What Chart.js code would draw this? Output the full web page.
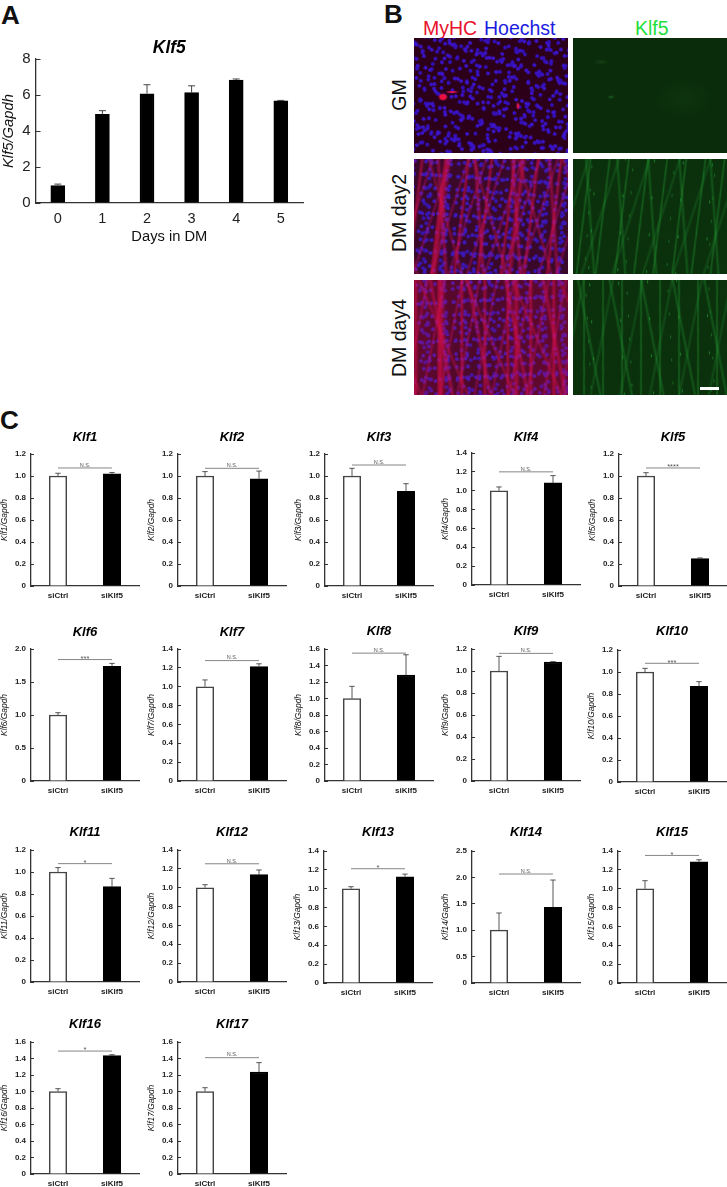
<!DOCTYPE html>
<html>
<head>
<meta charset="utf-8">
<script src="https://cdn.jsdelivr.net/npm/chart.js@4"></script>
<style>
  html, body { margin: 0; background: #fff; }
  #page { position: relative; width: 727px; height: 1187px; overflow: hidden; font-family: "Liberation Sans", Arial, sans-serif; }
  #page canvas { position: absolute; }
  .txt { position: absolute; white-space: nowrap; line-height: 1; color: #111; }
  .letter { font-size: 26px; font-weight: bold; }
  .rot { transform: translate(-50%, -50%) rotate(-90deg); font-size: 19.5px; }
  .micro { position: absolute; width: 154px; height: 115px; overflow: hidden; }
  .micro::before { content: ''; position: absolute; inset: -50px; filter: blur(0.7px); }
  .micro::after { content: ''; position: absolute; inset: 0; }

  /* textures only, tiles overlap so the repeat is less obvious */
  .gm-left { background: #2c0018; }
  .gm-left::before {
    transform: rotate(19deg);
    background-image:
      radial-gradient(circle at 30% 40%, #3a14c8 1.5px, transparent 2.3px),
      radial-gradient(circle at 70% 20%, #3410bc 1.5px, transparent 2.3px),
      radial-gradient(circle at 20% 70%, #3a12c4 1.5px, transparent 2.3px),
      radial-gradient(circle at 60% 60%, #3410b8 1.6px, transparent 2.4px),
      radial-gradient(circle at 40% 30%, #3c14c8 1.5px, transparent 2.3px),
      radial-gradient(circle at 50% 80%, #3410bc 1.5px, transparent 2.3px),
      radial-gradient(circle at 80% 50%, #3a12c4 1.5px, transparent 2.3px),
      radial-gradient(circle at 25% 55%, #3812c0 1.5px, transparent 2.3px),
      radial-gradient(circle at 65% 35%, #3a14c8 1.5px, transparent 2.3px),
      radial-gradient(circle at 45% 75%, #3410bc 1.5px, transparent 2.3px);
    background-size: 17px 19px, 21px 13px, 19px 23px, 29px 17px, 13px 31px, 37px 11px, 11px 43px, 31px 13px, 23px 16px, 15px 27px;
    background-position: 0 0, 5px 3px, 9px 7px, 2px 11px, 4px 1px, 7px 5px, 3px 9px, 6px 12px, 10px 2px, 1px 8px;
  }
  .gm-left::after {
    background-image:
      radial-gradient(ellipse 5px 4px at 29px 59px, #ee1040 55%, transparent),
      radial-gradient(ellipse 7px 1.5px at 38px 54px, #d01048 40%, transparent),
      radial-gradient(ellipse 2px 4px at 104px 68px, #d01048 50%, transparent);
  }
  .gm-right { background: #0a2c0a; }
  .gm-right::after {
    background-image:
      radial-gradient(ellipse 4px 2px at 38px 59px, #1c5a1e, transparent),
      radial-gradient(ellipse 8px 3px at 28px 24px, #164016, transparent),
      radial-gradient(ellipse 30px 20px at 110px 60px, #0e340e, transparent);
  }
  .dm-left { background: #3a0828; }
  .dm-left::before {
    transform: rotate(4deg);
    background-image:
      linear-gradient(93deg, transparent 30%, rgba(216,14,70,.65) 31%, transparent 33%, transparent 58%, rgba(216,14,70,.6) 59.5%, transparent 61%),
      repeating-linear-gradient(93deg, transparent 0 9px, rgba(214,14,72,.6) 11px, transparent 14px 23px),
      repeating-linear-gradient(82deg, transparent 0 15px, rgba(204,16,84,.55) 18px, transparent 21px 37px),
      repeating-linear-gradient(104deg, transparent 0 6px, rgba(190,16,110,.45) 8px, transparent 10px 17px),
      repeating-linear-gradient(70deg, transparent 0 24px, rgba(214,20,80,.4) 26px, transparent 29px 43px),
      radial-gradient(circle at 30% 40%, #3c18b8 1.5px, transparent 2.3px),
      radial-gradient(circle at 70% 20%, #3614b0 1.5px, transparent 2.3px),
      radial-gradient(circle at 20% 70%, #3c18b8 1.5px, transparent 2.3px),
      radial-gradient(circle at 60% 60%, #3614b0 1.5px, transparent 2.3px),
      radial-gradient(circle at 40% 30%, #3c18b8 1.5px, transparent 2.3px);
    background-size: auto, auto, auto, auto, auto, 11px 13px, 17px 9px, 9px 19px, 23px 15px, 19px 11px;
  }
  .dm-right { background: #0a300c; }
  .dm-right::before {
    transform: rotate(4deg);
    background-image:
      repeating-linear-gradient(93deg, transparent 0 8px, rgba(34,150,48,.5) 9.5px, transparent 11px 19px),
      repeating-linear-gradient(82deg, transparent 0 17px, rgba(30,140,44,.45) 19px, transparent 21px 31px),
      repeating-linear-gradient(104deg, transparent 0 13px, rgba(28,120,40,.4) 15px, transparent 17px 29px),
      radial-gradient(ellipse 1px 2.5px at 40% 40%, rgba(38,170,56,.8), transparent),
      radial-gradient(ellipse 1px 2.5px at 60% 70%, rgba(32,150,48,.7), transparent);
    background-size: auto, auto, auto, 29px 37px, 41px 23px;
  }
  .day4.dm-left::after { background: linear-gradient(100deg, rgba(220,10,60,.28), rgba(220,10,60,.1) 45%, rgba(220,10,60,.3)); }
  .day4.dm-left::before { transform: rotate(-3deg); }
  .day4.dm-right::before { transform: rotate(-3deg); }
  #scalebar { position: absolute; left: 700px; top: 387px; width: 19px; height: 3px; background: #fff; }
</style>
</head>
<body>
<div id="page">
  <div class="txt letter" style="left:1px;top:2px">A</div>
  <div class="txt letter" style="left:384px;top:1px">B</div>
  <div class="txt letter" style="left:0px;top:407px">C</div>

  <div class="txt" style="left:423px;top:19px;font-size:19.5px;color:#e8112d">MyHC</div>
  <div class="txt" style="left:484px;top:19px;font-size:19.5px;color:#1c1ce0">Hoechst</div>
  <div class="txt" style="left:635px;top:19px;font-size:19.5px;color:#22e03a">Klf5</div>
  <div class="txt rot" style="left:400px;top:95px">GM</div>
  <div class="txt rot" style="left:400px;top:213px">DM day2</div>
  <div class="txt rot" style="left:400px;top:338px">DM day4</div>

  <div class="micro gm-left" style="left:414px;top:38px"></div>
  <div class="micro gm-right" style="left:572.5px;top:38px"></div>
  <div class="micro dm-left" style="left:414px;top:159px"></div>
  <div class="micro dm-right" style="left:572.5px;top:159px"></div>
  <div class="micro dm-left day4" style="left:414px;top:280px"></div>
  <div class="micro dm-right day4" style="left:572.5px;top:280px"></div>
  <div id="scalebar"></div>
</div>

<script>
// panel A
const days = ['0', '1', '2', '3', '4', '5']
const dayValues = [0.97, 4.93, 6.07, 6.13, 6.83, 5.67]
const dayErrors = [0.08, 0.2, 0.5, 0.38, 0.06, 0.03]

// panel C
const groups = ['siCtrl', 'siKlf5']
const genes = ['Klf1', 'Klf2', 'Klf3', 'Klf4', 'Klf5', 'Klf6', 'Klf7', 'Klf8', 'Klf9', 'Klf10', 'Klf11', 'Klf12', 'Klf13', 'Klf14', 'Klf15', 'Klf16', 'Klf17']
const ctrlValues = [1, 1, 1, 1, 1, 1, 1, 1, 1, 1, 1, 1, 1, 1, 1, 1, 1]
const kdValues = [1.02, 0.975, 0.86, 1.083, 0.25, 1.737, 1.213, 1.285, 1.082, 0.87, 0.867, 1.138, 1.127, 1.433, 1.286, 1.434, 1.236]
const ctrlErrors = [0.025, 0.04, 0.07, 0.04, 0.03, 0.035, 0.072, 0.147, 0.133, 0.033, 0.04, 0.032, 0.021, 0.326, 0.085, 0.034, 0.046]
const kdErrors = [0.012, 0.07, 0.07, 0.077, 0.005, 0.045, 0.03, 0.245, 0.003, 0.042, 0.075, 0.05, 0.028, 0.517, 0.021, 0.012, 0.114]
const sigLevels = [1.073, 1.07, 1.1, 1.2, 1.073, 1.84, 1.277, 1.55, 1.16, 1.079, 1.076, 1.254, 1.212, 2.064, 1.353, 1.49, 1.41]
const sigLabels = ['N.S.', 'N.S.', 'N.S.', 'N.S.', '****', '***', 'N.S.', 'N.S.', 'N.S.', '***', '*', 'N.S.', '*', 'N.S.', '*', '*', 'N.S.']
const yMaxes = [1.2, 1.2, 1.2, 1.4, 1.2, 2, 1.4, 1.6, 1.2, 1.2, 1.2, 1.4, 1.4, 2.5, 1.4, 1.6, 1.6]
const ySteps = [0.2, 0.2, 0.2, 0.2, 0.2, 0.5, 0.2, 0.2, 0.2, 0.2, 0.2, 0.2, 0.2, 0.5, 0.2, 0.2, 0.2]

// left edge of y axis, top of plot and title centre for each small panel
const panelX = [31, 177.7, 325, 472.3, 619, 31, 177.7, 325, 471.7, 618.3, 31, 178, 324.3, 471.7, 618.3, 31, 178]
const panelY = [454.3, 454.3, 454.3, 453.3, 454.3, 648.7, 648.7, 649.3, 649.3, 650, 849.7, 849.7, 850.7, 850.7, 850.7, 1041.7, 1041.7]
const titleY = [437.3, 437.3, 437.3, 437.3, 437.3, 631.7, 631.7, 631.7, 631.7, 631.7, 831.7, 831.7, 831.7, 831.7, 831.7, 1024, 1024]

const FONT = '"Liberation Sans", Arial, sans-serif'
const page = document.getElementById('page')

// error bars (upper only) and the significance bracket
const marks = {
  id: 'marks',
  afterDatasetsDraw(chart, args, opts) {
    const ctx = chart.ctx
    const y = chart.scales.y
    const x = chart.scales.x
    ctx.save()
    ctx.strokeStyle = '#444'
    ctx.lineWidth = opts.errWidth
    opts.values.forEach((v, i) => {
      const px = x.getPixelForValue(i)
      const top = y.getPixelForValue(v + opts.errors[i])
      ctx.beginPath()
      ctx.moveTo(px, y.getPixelForValue(v))
      ctx.lineTo(px, top)
      ctx.moveTo(px - opts.cap, top)
      ctx.lineTo(px + opts.cap, top)
      ctx.stroke()
    })
    if (opts.sig) {
      const sy = y.getPixelForValue(opts.sig)
      const x1 = x.getPixelForValue(0)
      const x2 = x.getPixelForValue(1)
      ctx.strokeStyle = '#666'
      ctx.lineWidth = 0.8
      ctx.beginPath()
      ctx.moveTo(x1, sy)
      ctx.lineTo(x2, sy)
      ctx.stroke()
      const isNs = opts.sigText == 'N.S.'
      ctx.fillStyle = '#555'
      ctx.font = isNs ? '5.5px ' + FONT : '7.5px ' + FONT
      ctx.textAlign = 'center'
      ctx.textBaseline = 'bottom'
      ctx.fillText(opts.sigText, (x1 + x2) / 2, sy + (isNs ? 0 : 3))
    }
    ctx.restore()
  }
}

function addChart(c) {
  const cv = document.createElement('canvas')
  cv.width = c.w
  cv.height = c.h
  cv.style.left = c.left + 'px'
  cv.style.top = c.top + 'px'
  page.appendChild(cv)
  new Chart(cv, {
    type: 'bar',
    data: {
      labels: c.labels,
      datasets: [{
        data: c.values,
        backgroundColor: c.fills,
        borderColor: c.edges,
        borderWidth: 1.5,
        barThickness: c.barW,
        borderSkipped: 'bottom'
      }]
    },
    plugins: [marks],
    options: {
      responsive: false,
      animation: false,
      layout: { padding: { right: c.padRight } },
      plugins: {
        legend: { display: false },
        tooltip: { enabled: false },
        title: {
          display: true,
          text: c.title,
          fullSize: false,
          color: '#000',
          font: { family: FONT, size: c.titleSize, style: 'italic', weight: 'bold', lineHeight: 1.2 },
          padding: c.titlePad
        },
        marks: { values: c.values, errors: c.errors, sig: c.sig, sigText: c.sigText, cap: c.cap, errWidth: c.errWidth }
      },
      scales: {
        x: {
          afterFit: s => { s.height = c.xH },
          grid: { display: false, drawTicks: false },
          border: { color: '#333', width: 1.3 },
          ticks: { color: '#222', padding: c.xPad, maxRotation: 0, font: { family: FONT, size: c.xSize, weight: c.tickWeight } },
          title: c.xTitle ? { display: true, text: c.xTitle, color: '#111', padding: 0, font: { family: FONT, size: 14.7 } } : { display: false }
        },
        y: {
          min: 0,
          max: c.max,
          afterFit: s => { s.width = c.yW },
          grid: { drawOnChartArea: false, tickLength: -c.tick, tickColor: '#333', tickWidth: 1 },
          border: { color: '#333', width: 1.3 },
          ticks: {
            stepSize: c.step,
            color: '#222',
            padding: c.yPad,
            font: { family: FONT, size: c.ySize, weight: c.tickWeight },
            callback: c.fmt
          },
          title: { display: true, text: c.yTitle, color: '#111', padding: 0, font: { family: FONT, size: c.yTitleSize, style: 'italic' } }
        }
      }
    }
  })
}

addChart({
  left: 0, top: 29, w: 305, h: 217,
  labels: days, values: dayValues, errors: dayErrors,
  fills: days.map(() => '#000'), edges: days.map(() => '#000'),
  title: 'Klf5', titleSize: 17.5, titlePad: { top: 8.5, bottom: 0.5 },
  max: 8, step: 2, fmt: v => v,
  yW: 35.5, xH: 43, padRight: 1.9, barW: 14,
  xTitle: 'Days in DM', xPad: 7, xSize: 14.5, ySize: 15, yPad: 10, tick: 5, tickWeight: 'normal',
  yTitle: 'Klf5/Gapdh', yTitleSize: 14.8,
  cap: 3.5, errWidth: 1
})

genes.forEach((g, i) => {
  const rise = panelY[i] - titleY[i]
  addChart({
    left: panelX[i] - 31, top: panelY[i] - 28, w: 141, h: 182,
    labels: groups,
    values: [ctrlValues[i], kdValues[i]], errors: [ctrlErrors[i], kdErrors[i]],
    fills: ['#fff', '#000'], edges: ['#444', '#000'],
    title: g, titleSize: 13, titlePad: { top: 28 - rise - 7.8, bottom: rise - 7.8 },
    max: yMaxes[i], step: ySteps[i], fmt: v => v == 0 ? '0' : v.toFixed(1),
    yW: 31, xH: 22, padRight: 2, barW: 17.5,
    sig: sigLevels[i], sigText: sigLabels[i],
    xPad: 5, xSize: 8, ySize: 8, yPad: 8, tick: 3, tickWeight: 'bold',
    yTitle: g + '/Gapdh', yTitleSize: 8.4,
    cap: 2.7, errWidth: 0.9
  })
})
</script>
</body>
</html>
